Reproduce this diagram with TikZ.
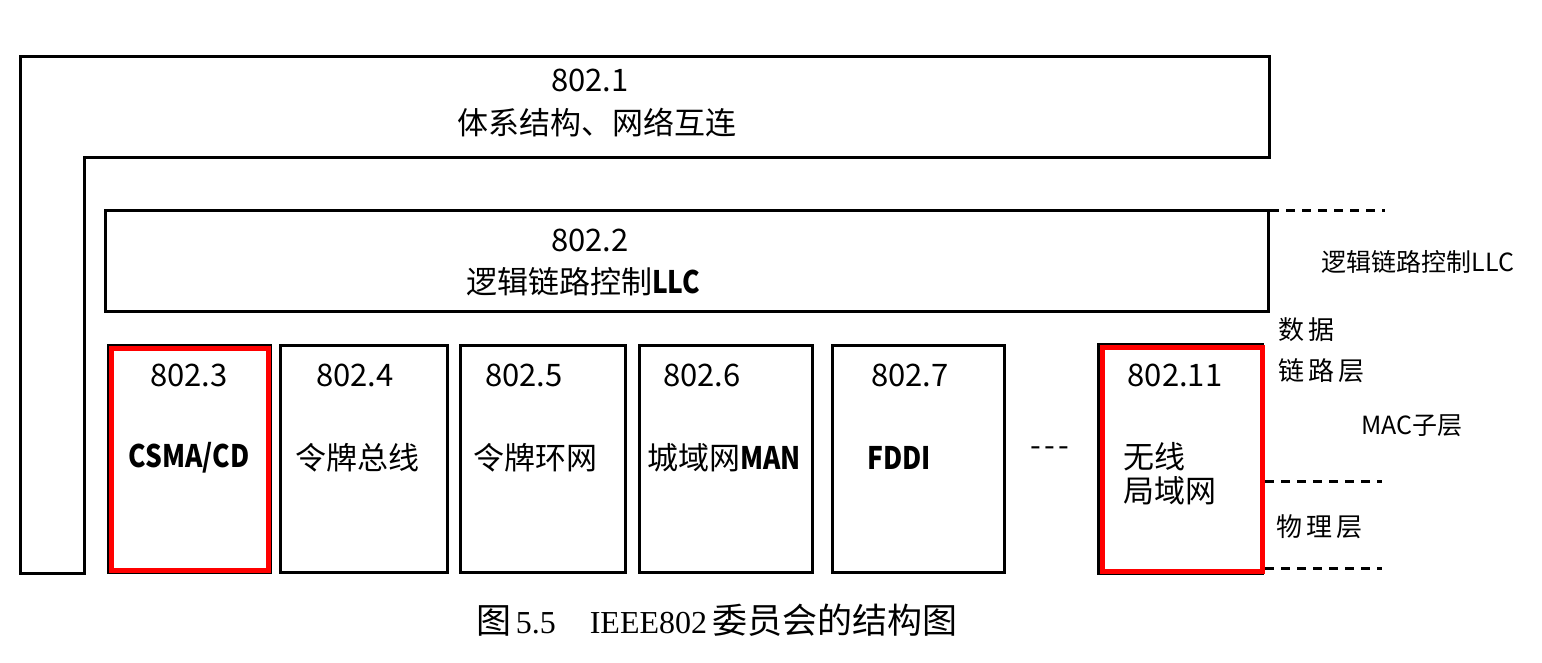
\documentclass[tikz,border=0pt]{standalone}
\usepackage{fontspec}
\setmainfont{Liberation Serif}
\newfontfamily\cjk{Noto Sans CJK SC}
\newfontfamily\cjkn[FakeStretch=0.85]{Noto Sans CJK SC}
\newcommand\boxtxt{\cjk\fontsize{31}{36}\selectfont}
\newcommand\sidetxt{\cjk\fontsize{25}{30}\selectfont}
\newcommand\laytxt{\cjk\fontsize{26}{30}\selectfont}
\newcommand\latb[1]{{\cjkn\bfseries #1}}
\newcommand\capcjk[1]{{\cjk\fontsize{35}{38}\selectfont #1}}
\begin{document}
\begin{tikzpicture}[x=1pt,y=-1pt,
  frame/.style={draw=black,line width=3pt,line join=miter},
  stdbox/.style={frame,inner sep=0pt,outer sep=0pt},
  redbox/.style={draw=red,line width=5pt,inner sep=0pt,outer sep=0pt},
  lbl/.style={inner sep=0pt,font=\boxtxt},
  side/.style={inner sep=0pt,font=\sidetxt},
  lay/.style={inner sep=0pt,font=\laytxt,anchor=west},
  sep/.style={draw=black,line width=3pt,dash pattern=on 9pt off 7pt}]
\path[use as bounding box] (0,0) rectangle (1542,663);
\fill[white] (0,0) rectangle (1542,663);

% 802.1 L-shaped frame
\draw[frame] (20,57) -- (1269,57) -- (1269,158) -- (84,158) -- (84,573) -- (20,573) -- cycle;
\node[lbl] (n1a) at (590,80) {802.1};
\node[lbl] (n1b) at (597,123) {体系结构、网络互连};

% 802.2
\node[stdbox,minimum width=1163pt,minimum height=100pt] (b2) at (686.5,261) {};
\node[lbl] (n2a) at (590,240) {802.2};
\node[lbl] (n2b) at (583,282) {逻辑链路控制\latb{LLC}};

% MAC boxes
\node[stdbox,minimum width=162pt,minimum height=227pt] (b3) at (189,458.5) {};
\node[redbox,minimum width=157pt,minimum height=222pt] (r3) at (189.5,459) {};
\node[stdbox,minimum width=167pt,minimum height=227pt] (b4) at (363.5,458.5) {};
\node[stdbox,minimum width=165pt,minimum height=227pt] (b5) at (542.5,458.5) {};
\node[stdbox,minimum width=173pt,minimum height=227pt] (b6) at (725.5,458.5) {};
\node[stdbox,minimum width=172pt,minimum height=227pt] (b7) at (918,458.5) {};
\node[stdbox,minimum width=164pt,minimum height=229pt] (b11) at (1180,458.5) {};
\node[redbox,minimum width=160pt,minimum height=224pt] (r11) at (1182,459) {};

\node[lbl] (n3a) at (189,375) {802.3};
\node[lbl] (n3b) at (189,458) {\latb{CSMA/CD}};
\node[lbl] (n4a) at (355,375) {802.4};
\node[lbl] (n4b) at (357,458) {令牌总线};
\node[lbl] (n5a) at (524,375) {802.5};
\node[lbl] (n5b) at (535,458) {令牌环网};
\node[lbl] (n6a) at (702,375) {802.6};
\node[lbl] (n6b) at (724,458) {城域网\latb{MAN}};
\node[lbl] (n7a) at (910,375) {802.7};
\node[lbl] (n7b) at (899,458) {\latb{FDDI}};
\node[lbl] (dots) at (1050,452) {-\hspace{3pt}-\hspace{3pt}-};
\node[lbl] (n11a) at (1175,375) {802.11};
\node[lbl,anchor=west] (n11b) at (1123,457) {无线};
\node[lbl,anchor=west] (n11c) at (1123,491) {局域网};

% layer separators
\coordinate (s1a) at (1270,211); \coordinate (s1b) at (1385,211);
\coordinate (s2a) at (1265,481); \coordinate (s2b) at (1382,481);
\coordinate (s3a) at (1265,568); \coordinate (s3b) at (1382,568);
\draw[sep] (s1a) -- (s1b);
\draw[sep] (s2a) -- (s2b);
\draw[sep] (s3a) -- (s3b);

% side labels
\node[side] (llc) at (1418,262) {逻辑链路控制LLC};
\node[lay] (dl1) at (1278,330) {数\hspace{4pt}据};
\node[lay] (dl2) at (1278,371) {链\hspace{4pt}路\hspace{4pt}层};
\node[side] (mac) at (1412,426) {MAC子层};
\node[lay] (phy) at (1276,527) {物\hspace{4pt}理\hspace{4pt}层};

% caption
\node[inner sep=0pt,font=\fontsize{32}{36}\selectfont] (cap) at (717,620) {\capcjk{图}\hspace{4pt}5.5\hspace{34pt}IEEE802\hspace{5pt}\capcjk{委员会的结构图}};
\end{tikzpicture}
\end{document}
